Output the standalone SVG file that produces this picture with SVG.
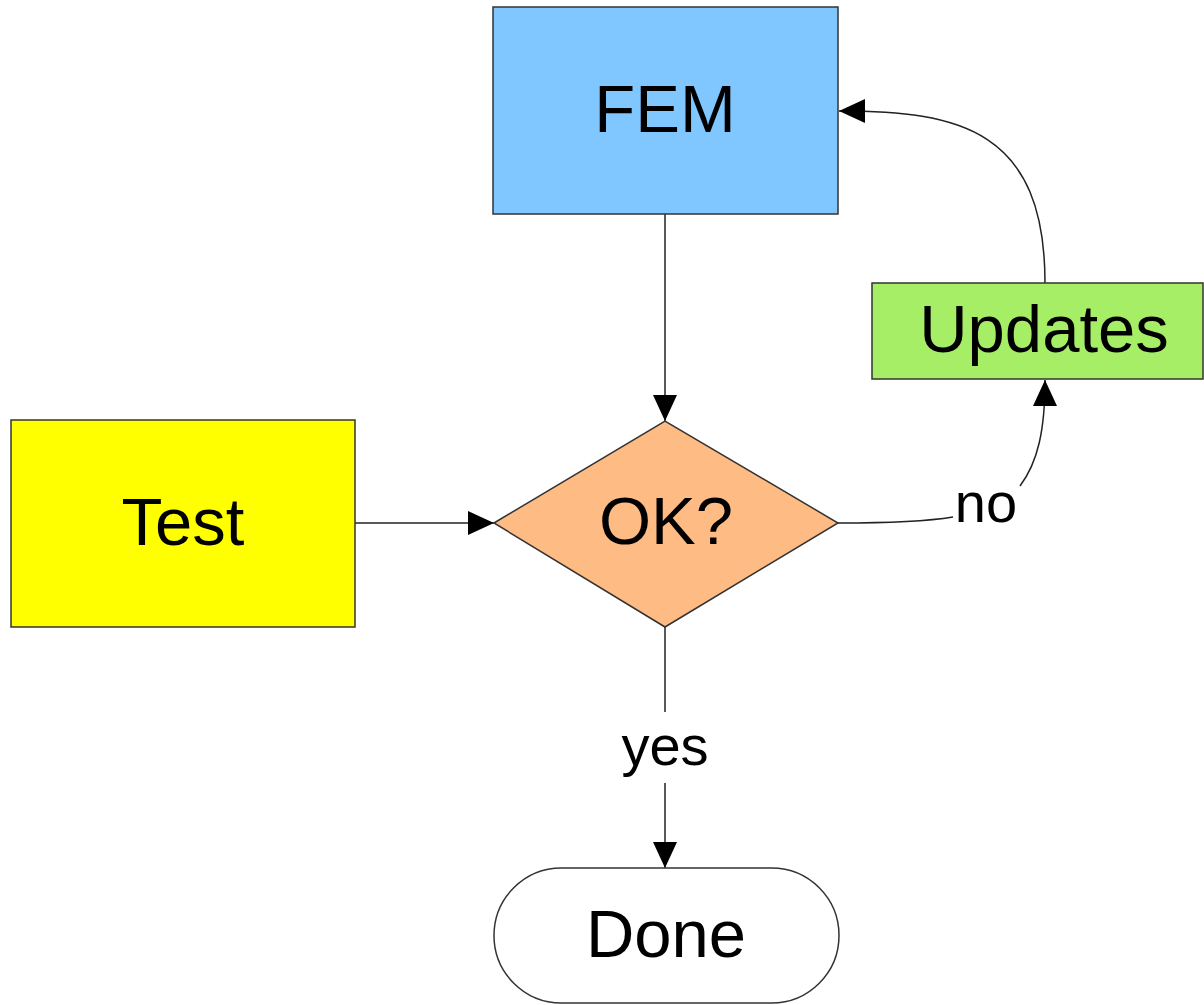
<svg xmlns="http://www.w3.org/2000/svg" width="1204" height="1005" viewBox="0 0 1204 1005">
  <style>
    .node { stroke: #333333; stroke-width: 1.5; }
    .label { font-family: "Liberation Sans", Arial, sans-serif; font-size: 67px; fill: #000000; text-anchor: middle; }
    .edge-label { font-family: "Liberation Sans", Arial, sans-serif; font-size: 56px; fill: #000000; text-anchor: middle; }
    .edge { fill: none; stroke: #222222; stroke-width: 1.5; }
  </style>
  <defs>
    <marker id="arrow" viewBox="0 0 26 24" refX="26" refY="12" markerWidth="26" markerHeight="24" markerUnits="userSpaceOnUse" orient="auto">
      <path d="M0,0 L26,12 L0,24 Z" fill="#000000"/>
    </marker>
  </defs>

  <rect width="1204" height="1005" fill="#ffffff"/>

  <!-- connectors -->
  <g id="connectors">
    <path class="edge" d="M665,214 L665,421" marker-end="url(#arrow)"/>
    <path class="edge" d="M355,523 L494,523" marker-end="url(#arrow)"/>
    <path class="edge" d="M665,627 L665,712"/>
    <path class="edge" d="M665,783 L665,868" marker-end="url(#arrow)"/>
    <path class="edge" d="M838,523 C900,523 935,520 953,517"/>
    <path class="edge" d="M1020,486 C1038,462 1045,430 1045,380" marker-end="url(#arrow)"/>
    <path class="edge" d="M1045,283 C1045,130 960,111 839,111" marker-end="url(#arrow)"/>
    <text class="edge-label" x="665" y="765">yes</text>
    <text class="edge-label" x="986" y="522">no</text>
  </g>

  <g id="fem">
    <rect class="node" x="493" y="7" width="345" height="207" fill="#80c6ff"/>
    <text class="label" x="665" y="132">FEM</text>
  </g>

  <g id="test">
    <rect class="node" x="11" y="420" width="344" height="207" fill="#ffff00"/>
    <text class="label" x="183" y="545">Test</text>
  </g>

  <g id="ok">
    <polygon class="node" points="494,523 665,421 838,523 665,627" fill="#ffbb84"/>
    <text class="label" x="666" y="544">OK?</text>
  </g>

  <g id="updates">
    <rect class="node" x="872" y="283" width="331" height="96" fill="#a6ee66"/>
    <text class="label" x="1044" y="352">Updates</text>
  </g>

  <g id="done">
    <rect class="node" x="494" y="868" width="345" height="135" rx="67.5" ry="67.5" fill="#ffffff"/>
    <text class="label" x="666" y="957">Done</text>
  </g>
</svg>
